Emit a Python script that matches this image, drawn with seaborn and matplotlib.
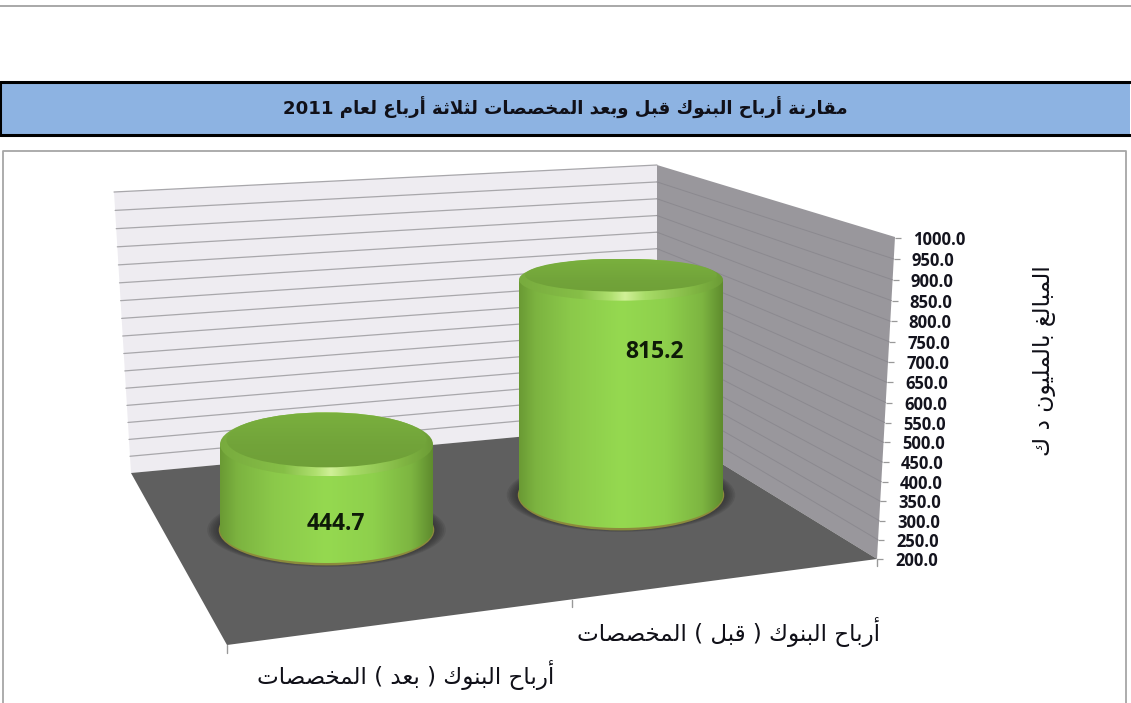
# -*- coding: utf-8 -*-
import re
import numpy as np
import seaborn as sns
import matplotlib
matplotlib.use('Agg')
import matplotlib.pyplot as plt
from matplotlib.colors import LinearSegmentedColormap
from matplotlib.patches import Ellipse, Polygon, Rectangle
from matplotlib.transforms import ScaledTranslation

title = 'مقارنة أرباح البنوك قبل وبعد المخصصات لثلاثة أرباع لعام 2011'
axis_title = 'المبالغ بالمليون د ك'
categories = ['أرباح البنوك ( بعد ) المخصصات', 'أرباح البنوك ( قبل ) المخصصات']
values = [444.7, 815.2]
ticks = list(range(200, 1001, 50))

W, H = 1131, 703
PX_PER_UNIT = 0.35

# matplotlib does no arabic shaping, so pick presentation forms by hand
# (isolated, final, initial, medial)
FORMS = {
    'ا': (0xFE8D, 0xFE8E), 'أ': (0xFE83, 0xFE84), 'د': (0xFEA9, 0xFEAA),
    'ر': (0xFEAD, 0xFEAE), 'و': (0xFEED, 0xFEEE), 'ة': (0xFE93, 0xFE94),
    'لا': (0xFEFB, 0xFEFC), 'لأ': (0xFEF7, 0xFEF8),
    'ب': (0xFE8F, 0xFE90, 0xFE91, 0xFE92), 'ت': (0xFE95, 0xFE96, 0xFE97, 0xFE98),
    'ث': (0xFE99, 0xFE9A, 0xFE9B, 0xFE9C), 'ح': (0xFEA1, 0xFEA2, 0xFEA3, 0xFEA4),
    'خ': (0xFEA5, 0xFEA6, 0xFEA7, 0xFEA8), 'ص': (0xFEB9, 0xFEBA, 0xFEBB, 0xFEBC),
    'ع': (0xFEC9, 0xFECA, 0xFECB, 0xFECC), 'غ': (0xFECD, 0xFECE, 0xFECF, 0xFED0),
    'ق': (0xFED5, 0xFED6, 0xFED7, 0xFED8), 'ك': (0xFED9, 0xFEDA, 0xFEDB, 0xFEDC),
    'ل': (0xFEDD, 0xFEDE, 0xFEDF, 0xFEE0), 'م': (0xFEE1, 0xFEE2, 0xFEE3, 0xFEE4),
    'ن': (0xFEE5, 0xFEE6, 0xFEE7, 0xFEE8), 'ي': (0xFEF1, 0xFEF2, 0xFEF3, 0xFEF4),
}


def shape(text):
    tokens = re.findall(r'ل[اأ]|.', text)
    out = []
    for i, c in enumerate(tokens):
        if c not in FORMS:
            out.append(c)
            continue
        f = FORMS[c]
        prev_joins = i > 0 and tokens[i - 1] in FORMS and len(FORMS[tokens[i - 1]]) == 4
        next_joins = len(f) == 4 and i + 1 < len(tokens) and tokens[i + 1] in FORMS
        if prev_joins and next_joins:
            out.append(chr(f[3]))
        elif prev_joins:
            out.append(chr(f[1]))
        elif next_joins:
            out.append(chr(f[2]))
        else:
            out.append(chr(f[0]))
    rev = ''.join(out)[::-1]
    rev = re.sub(r'\d+', lambda m: m.group()[::-1], rev)
    return rev.translate(str.maketrans('()', ')('))


def px_axes(x0, y0, x1, y1, **kw):
    return fig.add_axes([x0 / W, 1 - y1 / H, (x1 - x0) / W, (y1 - y0) / H], **kw)


def px_text(x, y, s, **kw):
    fig.text(x / W, 1 - y / H, s, ha='center', va='center', **kw)


def frac(v):
    return (np.asarray(v, dtype=float) - 200) / 800


# value axis is slightly non linear in the picture (perspective)
def wall_scale(v):
    t = frac(v)
    return 305 * t + 16 * t ** 2


def wall_scale_inv(d):
    d = np.asarray(d, dtype=float)
    t = (-305 + np.sqrt(np.maximum(305 ** 2 + 64 * d, 0))) / 32
    return 200 + 800 * t


sns.set_theme(style='white')
plt.rcParams['font.family'] = ['DejaVu Sans']
fig = plt.figure(figsize=(W / 100, H / 100), dpi=100, facecolor='white')

# page furniture and the chart box
bg = px_axes(0, 0, W, H)
bg.set_xlim(0, W)
bg.set_ylim(H, 0)
bg.axis('off')
bg.plot([0, W], [6, 6], color='#a8a8a8', lw=1.4)
bg.add_patch(Rectangle((0, 82), 1130, 53, fc='#8db3e2', ec='none'))
bg.plot([1130, 0, 0, 1130], [82, 82, 135, 135], color='black', lw=2.2)
bg.plot([3, 3, 1126, 1126], [H, 151, 151, H], color='#a6a6a6', lw=1.3)

# walls and floor
back = [(114, 192), (657, 165), (657, 424), (131, 473)]
side = [(657, 165), (895, 237), (877, 559), (657, 424)]
floor = [(131, 473), (657, 424), (877, 559), (227, 645)]
bg.add_patch(Polygon(back, fc='#eeecf1', ec='none'))
bg.add_patch(Polygon(side, fc='#99979c', ec='none'))
bg.add_patch(Polygon(floor, fc='#5f5f5f', ec='none'))
for v in ticks:
    t = wall_scale(v) / wall_scale(1000)
    yl = 473 + (192 - 473) * t
    xl = 131 + (114 - 131) * t
    ym = 424 + (165 - 424) * t
    ye = 559 - 321 * t
    xe = 877 + 18 * t
    if v > 200:
        bg.plot([xl, 657], [yl, ym], color='#a8a7ab', lw=0.9)
        if v < 1000:
            bg.plot([657, xe], [ym, ye], color='#8b898f', lw=0.7)
bg.plot([227, 227], [645, 653], color='#999999', lw=1)
bg.plot([572, 572], [600, 607], color='#999999', lw=1)
bg.plot([877, 877], [559, 566], color='#999999', lw=1)

# value axis, shifted tick by tick along the slanted wall edge
ax_val = px_axes(860, 238, 877, 559)
ax_val.patch.set_visible(False)
ax_val.set_yscale('function', functions=(wall_scale, wall_scale_inv))
ax_val.set_ylim(200, 1000)
ax_val.yaxis.tick_right()
ax_val.set_yticks(ticks)
ax_val.set_yticklabels(['%.1f' % v for v in ticks], fontsize=12, fontweight='bold',
                       family='Open Sans', color='#14141e')
ax_val.tick_params(axis='y', length=4.5, width=0.9, color='#999999', pad=8.5, right=True, labelright=True)
ax_val.set_xticks([])
for s in ax_val.spines.values():
    s.set_visible(False)
for v, tick in zip(ticks, ax_val.yaxis.get_major_ticks()):
    off = ScaledTranslation(18 * float(frac(v)) / 100, 0, fig.dpi_scale_trans)
    tick.tick2line.set_transform(tick.tick2line.get_transform() + off)
    tick.label2.set_transform(tick.label2.get_transform() + off)

body_cmap = LinearSegmentedColormap.from_list(
    'body', [(0, '#6a9a34'), (0.08, '#7cb340'), (0.25, '#8bc94a'), (0.5, '#95d950'),
             (0.72, '#8ed04c'), (0.9, '#7db541'), (1, '#5f8c2e')])
bevel_cmap = LinearSegmentedColormap.from_list(
    'bevel', [(0, '#78ab3e'), (0.3, '#86bf47'), (0.45, '#b0e070'), (0.52, '#d0f098'),
              (0.62, '#a8dc68'), (0.85, '#82b844'), (1, '#6c9c36')])
face_cmap = LinearSegmentedColormap.from_list('face', ['#7ab03e', '#72a43a', '#6e9e37'])
grad = np.linspace(0, 1, 256).reshape(1, -1)

# centre x, width, base y, base and top half heights: all in pixels
layout = [(326.5, 213, 530, 33, 32), (621, 204, 495, 33, 21)]
label_pos = [(336, 524), (654, 352)]

for cat, val, (cx, w, base_y, b_base, b_top), pos in zip(categories, values, layout, label_pos):
    ax = px_axes(cx - 0.7 * w, base_y - 800 * PX_PER_UNIT, cx + 0.7 * w, base_y + 120 * PX_PER_UNIT)
    ax.patch.set_visible(False)
    sns.barplot(x=[cat], y=[val], width=1, color='#8cc84a', linewidth=0, ax=ax)
    bar = ax.containers[0][0]
    top = bar.get_height()
    bar.set_y(200)
    bar.set_height(top - 200)
    hw = bar.get_width() / 2
    u_base = b_base / PX_PER_UNIT
    u_top = b_top / PX_PER_UNIT

    # soft shadow and gold ring under the cylinder
    for k in np.linspace(1.12, 1.02, 7):
        ax.add_patch(Ellipse((0, 200), 2 * hw * k, 2 * u_base * k, fc='#2e2e2e', ec='none', alpha=0.16))
    ax.add_patch(Ellipse((0, 200), 2 * hw * 1.012, 2 * u_base + 14, fc='#8c8a3c', ec='none'))

    th = np.linspace(0, np.pi, 80)
    outline = np.column_stack([hw * np.cos(th), 200 - u_base * np.sin(th)])
    outline = np.vstack([[[-hw, top], [hw, top]], outline])
    clip = Polygon(outline, fc='none', ec='none', transform=ax.transData)
    ax.add_patch(clip)
    im = ax.imshow(grad, extent=[-hw, hw, 200 - u_base, top], aspect='auto', cmap=body_cmap, zorder=3)
    im.set_clip_path(clip)

    bevel = Ellipse((0, top), 2 * hw, 2 * u_top, fc='none', ec='none', zorder=4)
    ax.add_patch(bevel)
    im = ax.imshow(grad, extent=[-hw, hw, top - u_top, top + u_top], aspect='auto', cmap=bevel_cmap, zorder=4)
    im.set_clip_path(bevel)

    face = Ellipse((0, top + 4.5 / PX_PER_UNIT), 2 * hw * 0.94, 2 * (b_top - 4.5) / PX_PER_UNIT,
                   fc='none', ec='none', zorder=5)
    ax.add_patch(face)
    im = ax.imshow(grad.T, extent=[-hw, hw, top - u_top, top + u_top], aspect='auto', cmap=face_cmap,
                   origin='upper', zorder=5)
    im.set_clip_path(face)

    ax.set_xlim(-0.7, 0.7)
    ax.set_ylim(80, 1000)
    ax.axis('off')
    px_text(pos[0], pos[1], '%.1f' % val, fontsize=16.5, fontweight='bold', family='Open Sans', color='#0e1a08')

px_text(565, 108, shape(title), fontsize=13.1, fontweight='bold', color='#101018')
px_text(406, 675, shape(categories[0]), fontsize=16.6, color='#101018')
px_text(729, 632, shape(categories[1]), fontsize=16.6, color='#101018')
px_text(1045, 361, shape(axis_title), fontsize=16.8, rotation=90, color='#101018')

fig.savefig('out.png', dpi=100, facecolor='white')
